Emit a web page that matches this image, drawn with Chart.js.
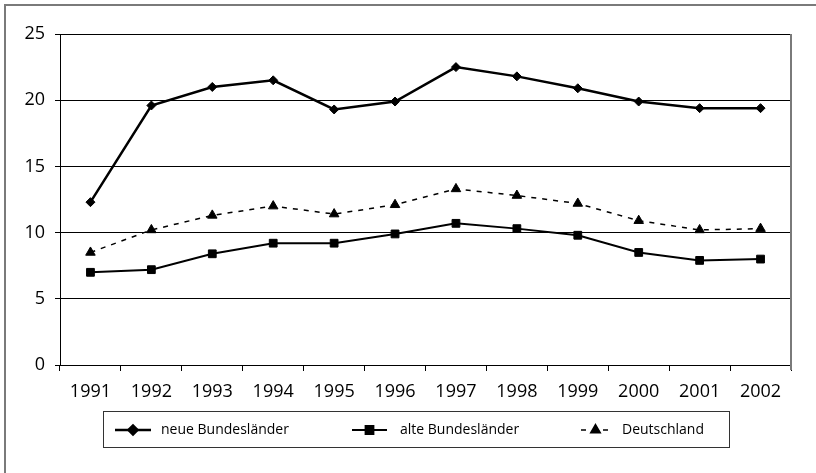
<!DOCTYPE html>
<html>
<head>
<meta charset="utf-8">
<script src="https://cdn.jsdelivr.net/npm/chart.js@4"></script>
<style>
  html, body { margin: 0; padding: 0; background: #fff; }
  #wrap { width: 816px; height: 473px; position: relative; }
</style>
</head>
<body>
<div id="wrap"><canvas id="chart" width="816" height="473"></canvas></div>
<script>
const years = ['1991', '1992', '1993', '1994', '1995', '1996', '1997', '1998', '1999', '2000', '2001', '2002']
const neueLaender = [12.3, 19.6, 21.0, 21.5, 19.3, 19.9, 22.5, 21.8, 20.9, 19.9, 19.4, 19.4]
const alteLaender = [7.0, 7.2, 8.4, 9.2, 9.2, 9.9, 10.7, 10.3, 9.8, 8.5, 7.9, 8.0]
const deutschland = [8.5, 10.2, 11.3, 12.0, 11.4, 12.1, 13.3, 12.8, 12.2, 10.9, 10.2, 10.3]
const yTicks = [0, 5, 10, 15, 20, 25]

const FONT = '"Open Sans", sans-serif'

// frame, right border of the plot and the boxed legend
const decorations = {
  id: 'decorations',
  afterDraw(chart) {
    const ctx = chart.ctx
    const area = chart.chartArea
    ctx.save()
    // outer frame (only top and left visible)
    ctx.strokeStyle = '#7a7a7a'
    ctx.lineWidth = 2
    ctx.beginPath()
    ctx.moveTo(5, 480)
    ctx.lineTo(5, 5)
    ctx.lineTo(820, 5)
    ctx.stroke()
    // right side of plot area
    ctx.beginPath()
    ctx.moveTo(area.right, area.top)
    ctx.lineTo(area.right, area.bottom + 5)
    ctx.stroke()

    // legend box
    ctx.strokeStyle = '#333'
    ctx.lineWidth = 1
    ctx.strokeRect(103.5, 411.5, 626, 36)
    const items = [
      { x1: 115, x2: 151, tx: 161 },
      { x1: 352, x2: 387, tx: 400 },
      { x1: 581, x2: 610, tx: 622 }
    ]
    const ly = 430
    chart.data.datasets.forEach((ds, i) => {
      const it = items[i]
      ctx.strokeStyle = '#000'
      ctx.lineWidth = ds.borderWidth
      ctx.setLineDash(ds.borderDash || [])
      ctx.beginPath()
      ctx.moveTo(it.x1, ly)
      ctx.lineTo(it.x2, ly)
      ctx.stroke()
      ctx.setLineDash([])
      Chart.helpers.drawPoint(ctx, {
        pointStyle: ds.pointStyle,
        radius: ds.pointRadius,
        borderWidth: 1,
        rotation: 0
      }, (it.x1 + it.x2) / 2, ly)
      ctx.fillStyle = '#000'
      ctx.font = '14px ' + FONT
      ctx.textBaseline = 'middle'
      ctx.fillText(ds.label, it.tx, ly)
    })
    ctx.restore()
  }
}

new Chart(document.getElementById('chart'), {
  type: 'line',
  data: {
    labels: years,
    datasets: [
      {
        label: 'neue Bundesländer',
        data: neueLaender,
        borderColor: '#000',
        backgroundColor: '#000',
        borderWidth: 2.5,
        pointStyle: 'rectRot',
        pointRadius: 4.5,
        pointBorderWidth: 1,
        tension: 0
      },
      {
        label: 'alte Bundesländer',
        data: alteLaender,
        borderColor: '#000',
        backgroundColor: '#000',
        borderWidth: 2,
        pointStyle: 'rect',
        pointRadius: 5.5,
        pointBorderWidth: 1,
        tension: 0
      },
      {
        label: 'Deutschland',
        data: deutschland,
        borderColor: '#000',
        backgroundColor: '#000',
        borderWidth: 1.5,
        borderDash: [5, 6],
        pointStyle: 'triangle',
        pointRadius: 5.5,
        pointBorderWidth: 1,
        tension: 0
      }
    ]
  },
  options: {
    responsive: false,
    animation: false,
    layout: { padding: { left: 0, right: 25, top: 34, bottom: 0 } },
    plugins: {
      legend: { display: false },
      tooltip: { enabled: false }
    },
    scales: {
      x: {
        offset: true,
        grid: {
          offset: true,
          drawOnChartArea: false,
          drawTicks: true,
          tickLength: 6,
          color: '#000'
        },
        border: { color: '#000', width: 1 },
        ticks: {
          color: '#000',
          font: { family: FONT, size: 18 },
          padding: 10,
          maxRotation: 0,
          autoSkip: false
        },
        afterFit(scale) { scale.height = 108 }
      },
      y: {
        min: 0,
        max: 25,
        afterBuildTicks(scale) { scale.ticks = yTicks.map(v => ({ value: v })) },
        grid: {
          color: '#000',
          lineWidth: 1,
          drawTicks: true,
          tickLength: 5
        },
        border: { color: '#000', width: 1 },
        ticks: {
          color: '#000',
          font: { family: FONT, size: 18 },
          padding: 10
        },
        afterFit(scale) { scale.width = 60 }
      }
    }
  },
  plugins: [decorations]
})
</script>
</body>
</html>
